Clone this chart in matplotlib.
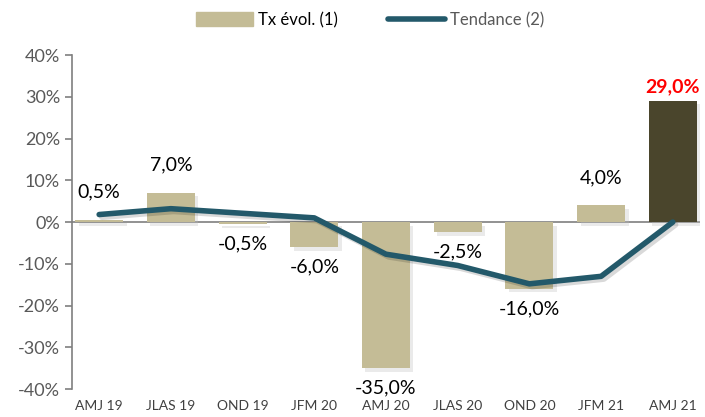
import matplotlib.pyplot as plt
import matplotlib.patheffects as pe
from matplotlib.ticker import FuncFormatter
from matplotlib.patches import Patch
from matplotlib.lines import Line2D

categories = ["AMJ 19", "JLAS 19", "OND 19", "JFM 20", "AMJ 20",
              "JLAS 20", "OND 20", "JFM 21", "AMJ 21"]
tx_evol = [0.5, 7.0, -0.5, -6.0, -35.0, -2.5, -16.0, 4.0, 29.0]
tendance = [1.8, 3.2, 2.1, 1.0, -7.7, -10.4, -14.8, -13.0, 0.0]

bar_color = "#C4BC96"
last_color = "#4A452C"
line_color = "#23596A"
grey = "#7F7F7F"

plt.rcParams['font.family'] = ['Lato', 'DejaVu Sans']

fig = plt.figure(figsize=(7.05, 4.17), dpi=100)
ax = fig.add_axes([0.102, 0.067, 0.891, 0.801])

x = list(range(len(categories)))
colors = [bar_color] * (len(x) - 1) + [last_color]
shadow = [pe.SimplePatchShadow(offset=(2.5, -2.5), shadow_rgbFace="#bbbbbb", alpha=0.3), pe.Normal()]
bars = ax.bar(x, tx_evol, width=0.67, color=colors, zorder=2)
for b in bars:
    b.set_path_effects(shadow)

ax.plot(x, tendance, color=line_color, lw=4, solid_capstyle='round', zorder=3,
        path_effects=[pe.SimpleLineShadow(offset=(2, -2), alpha=0.15), pe.Normal()])

for i, v in enumerate(tx_evol):
    label = f"{v:.1f}%".replace(".", ",")
    off = 14 if v >= 0 else -8
    va = 'bottom' if v >= 0 else 'top'
    if i == len(tx_evol) - 1:
        ax.annotate(label, (i, v), xytext=(0, 4), textcoords='offset points',
                    ha='center', va='bottom', fontsize=14, color='red', fontweight='bold')
    else:
        ax.annotate(label, (i, v), xytext=(0, off), textcoords='offset points',
                    ha='center', va=va, fontsize=14, color='black')

ax.axhline(0, color=grey, lw=1.2, zorder=1)
ax.set_ylim(-40, 40)
ax.set_xlim(-0.38, 8.38)
ax.set_yticks(range(-40, 41, 10))
ax.yaxis.set_major_formatter(FuncFormatter(lambda v, p: f"{v:.0f}%"))
ax.tick_params(axis='y', colors=grey, labelsize=13, length=5, width=1.2, direction='out')
ax.set_xticks(x)
ax.set_xticklabels(categories)
ax.tick_params(axis='x', length=0, labelsize=10, colors='#404040', pad=8)
for lab in ax.get_yticklabels():
    lab.set_color('#595959')

for s in ['top', 'right', 'bottom']:
    ax.spines[s].set_visible(False)
ax.spines['left'].set_color(grey)
ax.spines['left'].set_linewidth(1.2)

handles = [Patch(color=bar_color, label="Tx évol. (1)"),
           Line2D([0], [0], color=line_color, lw=4, solid_capstyle='round', label="Tendance (2)")]
leg = fig.legend(handles=handles, loc='center', bbox_to_anchor=(0.525, 0.952), ncol=2,
                 frameon=False, fontsize=12, handlelength=3.4, handleheight=0.9,
                 columnspacing=3.0, handletextpad=0.3)
leg.get_texts()[1].set_color('#595959')

fig.savefig("out.png", dpi=100)
